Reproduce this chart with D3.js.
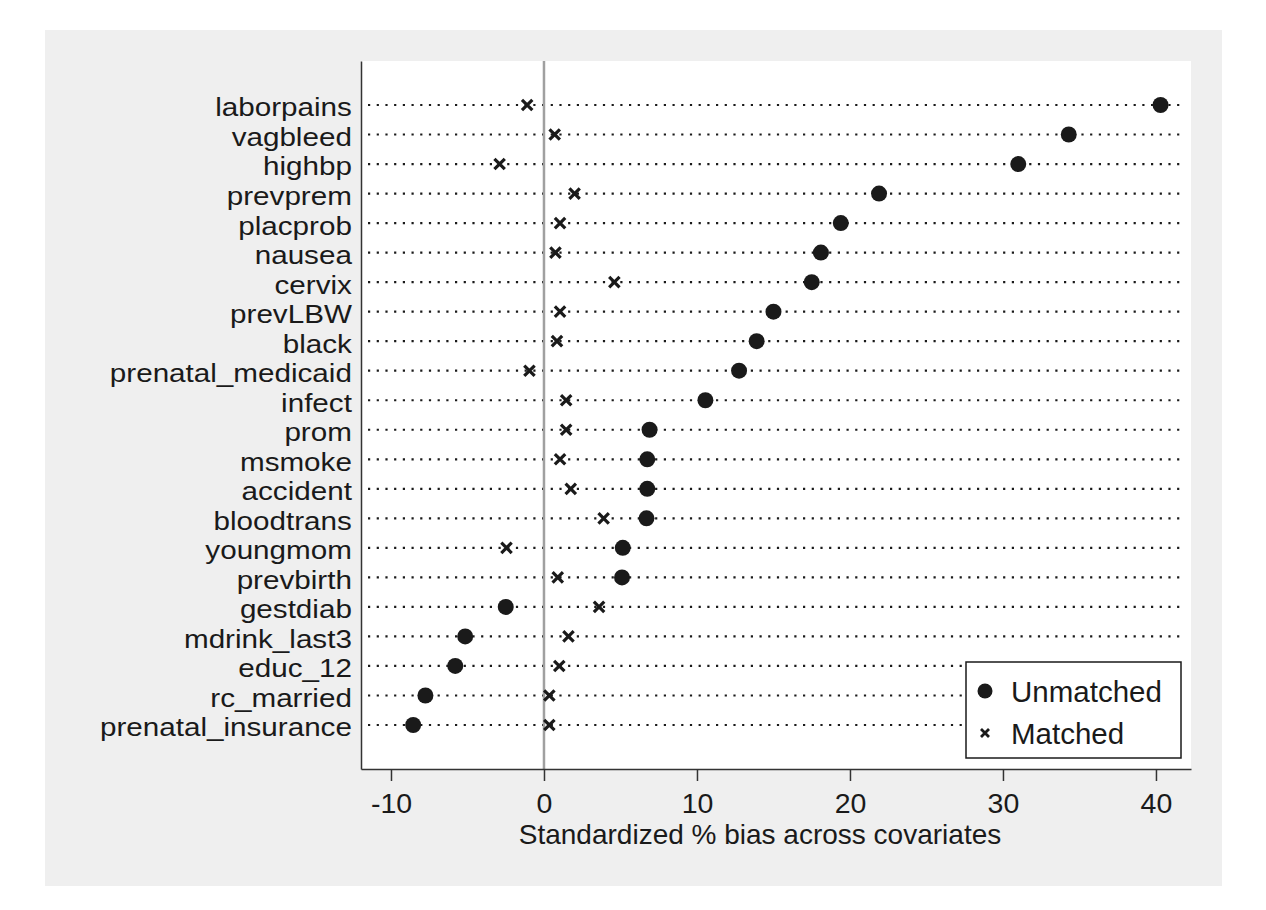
<!DOCTYPE html>
<html>
<head>
<meta charset="utf-8">
<script src="https://cdn.jsdelivr.net/npm/d3@7"></script>
<style>
  body { margin: 0; background: #fff; }
  svg { display: block; font-family: "Liberation Sans", Arial, sans-serif; }
</style>
</head>
<body>
<div id="vis"></div>
<script>
// covariates, top to bottom
const covariates = ["laborpains", "vagbleed", "highbp", "prevprem", "placprob", "nausea",
  "cervix", "prevLBW", "black", "prenatal_medicaid", "infect", "prom", "msmoke",
  "accident", "bloodtrans", "youngmom", "prevbirth", "gestdiab", "mdrink_last3",
  "educ_12", "rc_married", "prenatal_insurance"];

// standardized % bias before matching
const unmatched = [40.3, 34.3, 31.0, 21.9, 19.4, 18.1, 17.5, 15.0, 13.9, 12.75, 10.55, 6.9,
  6.75, 6.75, 6.7, 5.15, 5.1, -2.5, -5.15, -5.8, -7.75, -8.55];

// standardized % bias after matching
const matched = [-1.1, 0.7, -2.9, 2.0, 1.05, 0.75, 4.6, 1.05, 0.85, -0.95, 1.45, 1.45,
  1.05, 1.75, 3.9, -2.45, 0.9, 3.6, 1.6, 1.0, 0.35, 0.35];

const xTicks = [-10, 0, 10, 20, 30, 40];
const xTitle = "Standardized % bias across covariates";
const legendLabels = ["Unmatched", "Matched"];

const width = 1266, height = 910;
const plot = {left: 361, right: 1191, top: 61, bottom: 769};
const ink = "#1a1a1a";
const fontSize = 29.5;

const svg = d3.select("#vis").append("svg")
    .attr("width", width)
    .attr("height", height);

// outer graph region
svg.append("rect")
    .attr("x", 45).attr("y", 30)
    .attr("width", 1177).attr("height", 856)
    .attr("fill", "#efefef");

svg.append("rect")
    .attr("x", plot.left).attr("y", plot.top)
    .attr("width", plot.right - plot.left).attr("height", plot.bottom - plot.top)
    .attr("fill", "#fff");

const x = d3.scaleLinear()
    .domain([-11.96, 42.29])
    .range([plot.left, plot.right]);

const y = d3.scalePoint()
    .domain(covariates)
    .range([plot.top, plot.bottom])
    .padding(1.49);

// dotted guide lines
svg.append("g")
  .selectAll("line")
  .data(covariates)
  .join("line")
    .attr("x1", plot.left + 7)
    .attr("x2", plot.right - 8)
    .attr("y1", d => y(d))
    .attr("y2", d => y(d))
    .attr("stroke", ink)
    .attr("stroke-width", 2.2)
    .attr("stroke-dasharray", "2.2 6.5");

// zero reference line
svg.append("line")
    .attr("x1", x(0)).attr("x2", x(0))
    .attr("y1", plot.top).attr("y2", plot.bottom)
    .attr("stroke", "#a0a0a0")
    .attr("stroke-width", 2.5);

// x axis
const xAxis = svg.append("g")
    .attr("transform", `translate(0,${plot.bottom})`)
    .call(d3.axisBottom(x).tickValues(xTicks).tickFormat(d => String(d))
      .tickSize(12).tickPadding(12).tickSizeOuter(0));
xAxis.select(".domain").attr("stroke", "#333").attr("stroke-width", 1.5);
xAxis.selectAll(".tick line").attr("stroke", "#333").attr("stroke-width", 1.5);
xAxis.selectAll(".tick text")
    .attr("font-size", 28.5)
    .attr("font-family", "Liberation Sans, Arial, sans-serif")
    .attr("fill", ink);

// y axis labels (the original type is a little wider than it is tall)
const yAxis = svg.append("g")
    .attr("transform", `translate(${plot.left},0)`)
    .call(d3.axisLeft(y).tickSize(0).tickPadding(8));
yAxis.select(".domain").attr("stroke", "#333").attr("stroke-width", 1.5);
yAxis.selectAll(".tick text")
    .attr("font-size", 26)
    .attr("dy", "0.42em")
    .attr("transform", "scale(1.14,1)")
    .attr("font-family", "Liberation Sans, Arial, sans-serif")
    .attr("fill", ink);

svg.append("text")
    .attr("x", 760)
    .attr("y", 844)
    .attr("text-anchor", "middle")
    .attr("font-size", 28)
    .attr("fill", ink)
    .text(xTitle);

// markers
const cross = (s) => `M${-s},${-s}L${s},${s}M${-s},${s}L${s},${-s}`;

svg.append("g")
  .selectAll("circle")
  .data(covariates)
  .join("circle")
    .attr("cx", (d, i) => x(unmatched[i]))
    .attr("cy", d => y(d))
    .attr("r", 8)
    .attr("fill", ink);

svg.append("g")
  .selectAll("path")
  .data(covariates)
  .join("path")
    .attr("transform", (d, i) => `translate(${x(matched[i])},${y(d)})`)
    .attr("d", cross(5.2))
    .attr("stroke", ink)
    .attr("stroke-width", 3.2)
    .attr("fill", "none");

// legend
const legend = svg.append("g").attr("transform", "translate(966,662)");
legend.append("rect")
    .attr("width", 215).attr("height", 96)
    .attr("fill", "#fff")
    .attr("stroke", ink)
    .attr("stroke-width", 1.5);
legend.append("circle")
    .attr("cx", 19).attr("cy", 29)
    .attr("r", 7.5)
    .attr("fill", ink);
legend.append("path")
    .attr("transform", "translate(19,71)")
    .attr("d", cross(4))
    .attr("stroke", ink)
    .attr("stroke-width", 2.8);
legend.selectAll("text.lab")
  .data(legendLabels)
  .join("text")
    .attr("class", "lab")
    .attr("x", 45)
    .attr("y", (d, i) => 40 + i * 42)
    .attr("font-size", fontSize)
    .attr("fill", ink)
    .text(d => d);
</script>
</body>
</html>
